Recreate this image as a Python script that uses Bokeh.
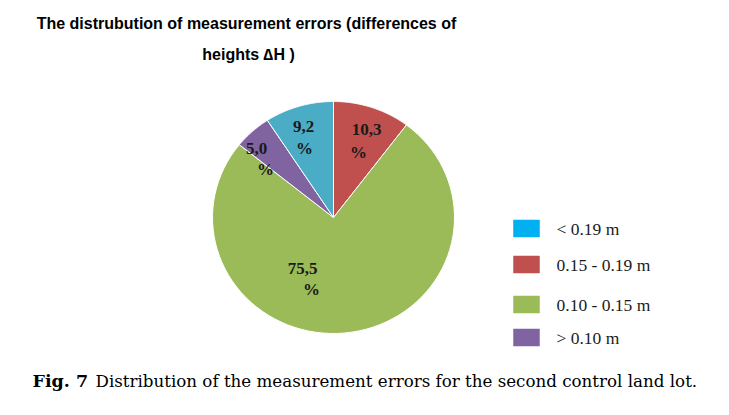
import numpy as np
from bokeh.plotting import figure
from bokeh.models import Range1d
from bokeh.core.properties import value
from bokeh.embed import file_html
from bokeh.resources import INLINE

# ---- data ----
categories = ["< 0.19 m", "0.15 - 0.19 m", "0.10 - 0.15 m", "> 0.10 m"]
shares = [9.2, 10.3, 75.5, 5.0]
labels = ["9,2", "10,3", "75,5", "5,0"]
slice_colors = ["#4BACC6", "#C0504D", "#9BBB59", "#8064A2"]
legend_colors = ["#00B0F0", "#C0504D", "#9BBB59", "#8064A2"]
# clockwise drawing order starting at 12 o'clock
clockwise_order = [1, 2, 3, 0]

W, H = 713, 399
p = figure(width=W, height=H, output_backend="svg", toolbar_location=None,
           x_range=Range1d(0, W), y_range=Range1d(H, 0),
           min_border=0)
p.axis.visible = False
p.grid.visible = False
p.outline_line_color = None
p.background_fill_color = "white"

# ---- pie (page-pixel coordinates, y downward) ----
cx, cy, rx, ry = 333, 217, 121, 116
total = sum(shares)
xs, ys, cols = [], [], []
start = 0.0
for i in clockwise_order:
    frac = shares[i] / total
    t = np.linspace(start, start + frac, 80) * 2 * np.pi
    xs.append([cx] + list(cx + rx * np.sin(t)) + [cx])
    ys.append([cy] + list(cy - ry * np.cos(t)) + [cy])
    cols.append(slice_colors[i])
    start += frac
p.patches(xs=xs, ys=ys, fill_color=cols, line_color="white", line_width=1)

# ---- slice labels ----
lab_pos = {0: (303, 126), 1: (366, 129), 2: (302, 268), 3: (256, 148)}
pct_pos = {0: (304, 148), 1: (358, 152), 2: (311, 289), 3: (265, 169)}
lx = [lab_pos[i][0] for i in range(4)]
ly = [lab_pos[i][1] for i in range(4)]
px_ = [pct_pos[i][0] for i in range(4)]
py_ = [pct_pos[i][1] for i in range(4)]
p.text(x=lx, y=ly, text=labels, text_font=value("Liberation Serif"),
       text_font_style="bold", text_font_size="17px", text_color="#1a1a1a",
       text_align="center", text_baseline="middle")
p.text(x=px_, y=py_, text=["%"] * 4, text_font=value("Liberation Serif"),
       text_font_style="bold", text_font_size="17px", text_color="#1a1a1a",
       text_align="center", text_baseline="middle")

# ---- legend ----
leg_y = [228, 264, 304, 337]
p.rect(x=[526] * 4, y=leg_y, width=26, height=17, fill_color=legend_colors,
       line_color=legend_colors, line_alpha=0.5)
p.text(x=[556] * 4, y=leg_y, text=categories, text_font=value("Liberation Serif"),
       text_font_size="17.5px", text_color="#1a1a1a", text_baseline="middle")

# ---- title ----
p.text(x=[246], y=[23], text=["The distrubution of measurement errors (differences of"],
       text_font=value("Liberation Sans"), text_font_style="bold",
       text_font_size="16px", text_color="black", text_align="center",
       text_baseline="middle")
p.text(x=[248], y=[54], text=["heights \u2206H )"],
       text_font=value("Liberation Sans"), text_font_style="bold",
       text_font_size="16px", text_color="black", text_align="center",
       text_baseline="middle")

# ---- caption ----
p.text(x=[32], y=[380], text=["Fig. 7"], text_font=value("DejaVu Serif"),
       text_font_style="bold", text_font_size="17.5px", text_color="black",
       text_baseline="middle")
p.text(x=[95], y=[380], text=["Distribution of the measurement errors for the second control land lot."],
       text_font=value("DejaVu Serif"), text_font_size="16.7px",
       text_color="black", text_baseline="middle")

open("out.html", "w").write(file_html(p, INLINE))
